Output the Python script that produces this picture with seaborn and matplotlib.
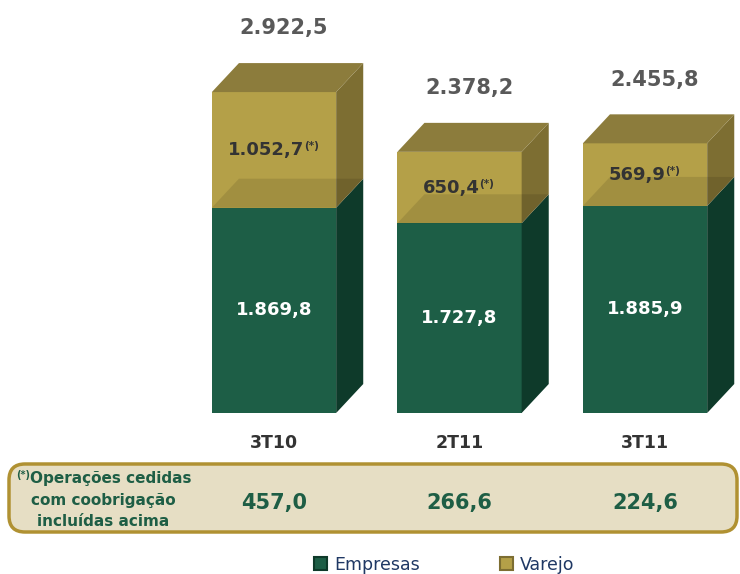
import numpy as np
import pandas as pd
import matplotlib
matplotlib.use("Agg")
import matplotlib.pyplot as plt
import seaborn as sns
from matplotlib.patches import Polygon, FancyBboxPatch, Patch

# data
periods = ["3T10", "2T11", "3T11"]
empresas = [1869.8, 1727.8, 1885.9]
varejo = [1052.7, 650.4, 569.9]
cedidas = [457.0, 266.6, 224.6]
series_names = ["Empresas", "Varejo"]
footnote_lines = ["Operações cedidas", "com coobrigação", "incluídas acima"]

green_front, green_side = "#1D5E46", "#0E3A2A"
gold_front, gold_side, gold_top = "#B4A048", "#7D6E32", "#8C7C3C"
box_fill, box_edge = "#E6DEC4", "#B09132"
text_green = "#1E5E45"


def br(v):
    s = f"{v:,.1f}"
    return s.replace(",", "X").replace(".", ",").replace("X", ".")


df = pd.DataFrame({"period": periods, "empresas": empresas, "varejo": varejo})
df["total"] = df["empresas"] + df["varejo"]

sns.set_style("white")
plt.rcParams["font.family"] = ["DejaVu Sans"]

fig = plt.figure(figsize=(7.4, 5.74), dpi=100)
ax = fig.add_axes([0, 0, 1, 1])

width = 0.67
sns.barplot(data=df, x="period", y="total", color=gold_front, saturation=1,
            width=width, linewidth=0, ax=ax)
sns.barplot(data=df, x="period", y="empresas", color=green_front, saturation=1,
            width=width, linewidth=0, ax=ax)

# 3D depth of the boxes
dx, dy = 0.146, 264

for i, row in df.iterrows():
    e, t = row["empresas"], row["total"]
    l, r = i - width / 2, i + width / 2
    # side faces
    ax.add_patch(Polygon([(r, 0), (r + dx, dy), (r + dx, e + dy), (r, e)],
                         closed=True, fc=green_side, ec="none", zorder=3))
    ax.add_patch(Polygon([(r, e), (r + dx, e + dy), (r + dx, t + dy), (r, t)],
                         closed=True, fc=gold_side, ec="none", zorder=3))
    # top face
    ax.add_patch(Polygon([(l, t), (l + dx, t + dy), (r + dx, t + dy), (r, t)],
                         closed=True, fc=gold_top, ec="none", zorder=3))
    # green top showing through the varejo block
    ax.add_patch(Polygon([(l, e), (l + dx, e + dy), (r + dx, e + dy), (r, e)],
                         closed=True, fc="black", alpha=0.1, ec="none", zorder=4))

    # labels
    ax.annotate(br(t), xy=(i, t + dy), xytext=(7, 25), textcoords="offset points",
                ha="center", va="center", fontsize=15, fontweight="bold",
                color="#595959", zorder=6)
    vt = ax.annotate(br(row["varejo"]), xy=(i, (e + t) / 2), xytext=(-6, 0),
                     textcoords="offset points", ha="center", va="center",
                     fontsize=13, fontweight="bold", color="#333333", zorder=6)
    ax.annotate("(*)", xy=(1, 1.0), xycoords=vt, xytext=(0, 0),
                textcoords="offset points", ha="left", va="top",
                fontsize=7.5, fontweight="bold", color="#333333", zorder=6)
    ax.text(i, e / 2, br(e), ha="center", va="center", fontsize=13,
            fontweight="bold", color="white", zorder=6)

ax.set_xlim(-1.477, 2.512)
ax.set_ylim(-1466, 3761)
ax.axis("off")

xt = ax.get_xaxis_transform()
for i, p in enumerate(periods):
    ax.text(i, 1 - 443 / 574, p, transform=xt, ha="center", va="center",
            fontsize=12.5, fontweight="bold", color="#333333")

# footnote box
box = FancyBboxPatch((0.09, 0.42), 7.28, 0.68,
                     boxstyle="round,pad=0,rounding_size=0.16",
                     transform=fig.dpi_scale_trans, fc=box_fill, ec=box_edge,
                     lw=2.5, zorder=1, clip_on=False)
ax.add_patch(box)

for i, v in enumerate(cedidas):
    ax.text(i, 1 - 503 / 574, br(v), transform=xt, ha="center", va="center",
            fontsize=15, fontweight="bold", color=text_green, zorder=6)

line_y = [478, 501, 522]
line_x = [111, 103, 103]
for k, (txt, x, y) in enumerate(zip(footnote_lines, line_x, line_y)):
    ft = ax.text(x / 740, 1 - y / 574, txt, transform=ax.transAxes,
                 ha="center", va="center", fontsize=11, fontweight="bold",
                 color=text_green, zorder=6)
    if k == 0:
        ax.annotate("(*)", xy=(0, 1.0), xycoords=ft, xytext=(0, 0),
                    textcoords="offset points", ha="right", va="top",
                    fontsize=7, fontweight="bold", color=text_green, zorder=6)

handles = [Patch(fc=green_front, ec=green_side, lw=1.5),
           Patch(fc=gold_front, ec=gold_side, lw=1.5)]
fig.legend(handles, series_names, loc="center", bbox_to_anchor=(0.6, 0.016),
           ncol=2, frameon=False, fontsize=12.5, labelcolor="#1F3864",
           handlelength=0.75, handleheight=0.75, handletextpad=0.4,
           columnspacing=4.6)

fig.savefig("out.png", dpi=100)
